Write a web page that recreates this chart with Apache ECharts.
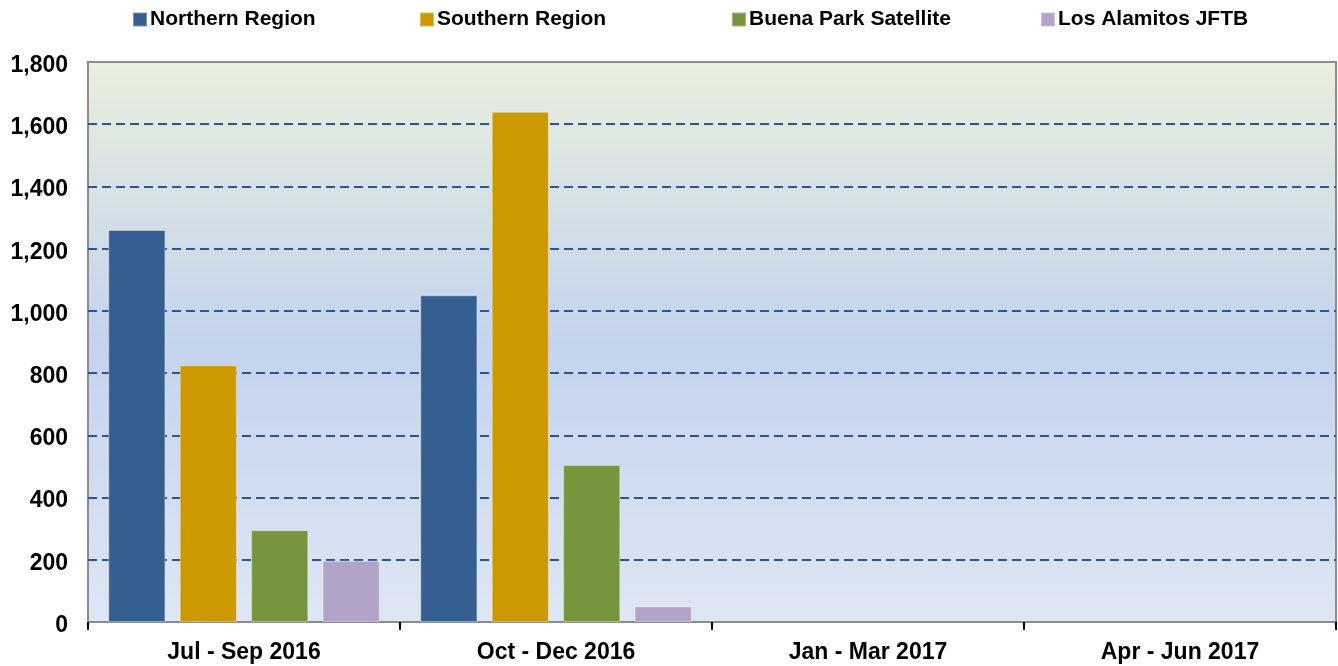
<!DOCTYPE html>
<html>
<head>
<meta charset="utf-8">
<script src="https://cdn.jsdelivr.net/npm/echarts@6/dist/echarts.min.js"></script>
<style>
html,body{margin:0;padding:0;background:#fff;}
#c{width:1338px;height:666px;}
</style>
</head>
<body>
<div id="c"></div>
<script>
const categories = ['Jul - Sep 2016', 'Oct - Dec 2016', 'Jan - Mar 2017', 'Apr - Jun 2017'];
const seriesNames = ['Northern Region', 'Southern Region', 'Buena Park Satellite', 'Los Alamitos JFTB'];
const northern = [1260, 1050, null, null];
const southern = [825, 1640, null, null];
const buenaPark = [295, 505, null, null];
const losAlamitos = [197, 50, null, null];
const colors = ['#355f91', '#cc9a00', '#77953d', '#b3a3c8'];
const yTicks = { min: 0, max: 1800, interval: 200 };

const chart = echarts.init(document.getElementById('c'), null, { renderer: 'canvas' });
const font = 'Liberation Sans, Arial, sans-serif';
const legendLefts = [127, 414, 726, 1035];
const values = [northern, southern, buenaPark, losAlamitos];

const option = {
  animation: false,
  backgroundColor: '#ffffff',
  legend: seriesNames.map((n, i) => ({
    data: [n],
    left: legendLefts[i],
    top: 4,
    itemWidth: 14,
    itemHeight: 14,
    itemGap: 0,
    icon: 'rect',
    textStyle: { fontFamily: font, fontWeight: 'bold', fontSize: 21, color: '#000', padding: [0, 0, 0, -2] }
  })),
  grid: {
    left: 88, right: 2, top: 62, bottom: 44,
    show: true,
    borderColor: '#8c8c8c',
    borderWidth: 2,
    backgroundColor: new echarts.graphic.LinearGradient(0, 0, 0, 1, [
      { offset: 0, color: '#e9efdd' },
      { offset: 0.5, color: '#c3d3ed' },
      { offset: 1, color: '#dee6f3' }
    ])
  },
  xAxis: {
    type: 'category',
    data: categories,
    axisLine: { show: true, lineStyle: { color: '#8c8c8c', width: 2 } },
    axisTick: { show: true, length: 8, lineStyle: { color: '#000', width: 2 } },
    axisLabel: { fontFamily: font, fontWeight: 'bold', fontSize: 23, color: '#000', margin: 19 }
  },
  yAxis: {
    type: 'value',
    min: yTicks.min, max: yTicks.max, interval: yTicks.interval,
    axisLine: { show: false },
    axisTick: { show: false },
    axisLabel: {
      margin: 20,
      formatter: v => '{a|' + v.toLocaleString('en-US') + '}',
      rich: {
        a: { fontFamily: font, fontWeight: 'bold', fontSize: 23, color: '#000', padding: [7, 0, 0, 0] }
      }
    },
    splitLine: {
      show: true,
      lineStyle: {
        color: ['#2f5494', '#2f5494', '#2f5494', '#2f5494', '#2f5494', '#2f5494', '#2f5494', '#2f5494', '#2f5494', 'rgba(0,0,0,0)'],
        width: 2, type: [9, 5]
      }
    }
  },
  series: seriesNames.map((n, i) => ({
    name: n,
    type: 'bar',
    data: values[i],
    barGap: '25%',
    barCategoryGap: '13%',
    itemStyle: { color: colors[i], borderColor: 'rgba(255,255,255,0.35)', borderWidth: 1 }
  }))
};
chart.setOption(option);
</script>
</body>
</html>
